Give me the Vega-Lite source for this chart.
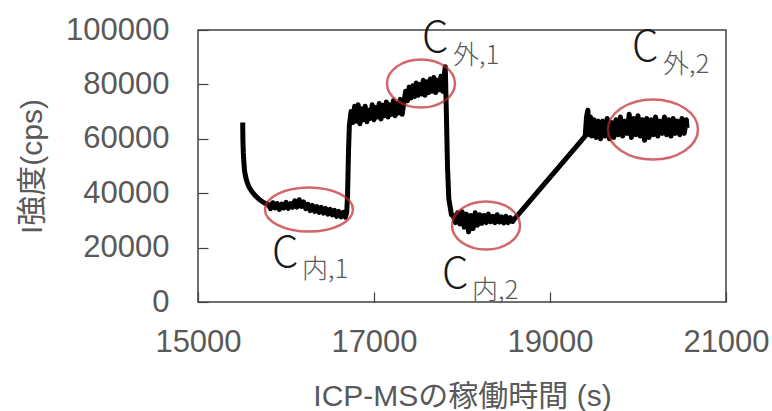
{
  "$schema": "https://vega.github.io/schema/vega-lite/v6.json",
  "width": 528,
  "height": 272,
  "autosize": "none",
  "padding": {"left": 198, "top": 30, "right": 46, "bottom": 109},
  "background": "white",
  "config": {
    "view": {"stroke": "#404040", "strokeWidth": 1.5},
    "axis": {
      "domain": false,
      "grid": false,
      "ticks": true,
      "tickColor": "#404040",
      "tickWidth": 1.2,
      "tickSize": -10,
      "format": "d",
      "labelFont": "Liberation Sans",
      "labelFontSize": 31,
      "labelColor": "#595959",
      "titleFont": "Liberation Sans, Noto Sans CJK JP",
      "titleFontSize": 30,
      "titleFontWeight": "normal",
      "titleColor": "#595959"
    }
  },
  "datasets": {
    "trace": [
      {"t": 15508, "v": 66000}, {"t": 15510, "v": 60000}, {"t": 15515, "v": 55000}, {"t": 15522, "v": 51000},
      {"t": 15530, "v": 48000}, {"t": 15545, "v": 45500}, {"t": 15560, "v": 43800}, {"t": 15580, "v": 42300},
      {"t": 15610, "v": 40700}, {"t": 15650, "v": 39100}, {"t": 15700, "v": 37600}, {"t": 15750, "v": 36500},
      {"t": 15800, "v": 35800}, {"t": 15825, "v": 34300}, {"t": 15850, "v": 36500}, {"t": 15875, "v": 34600},
      {"t": 15900, "v": 36200}, {"t": 15925, "v": 34000}, {"t": 15950, "v": 36000}, {"t": 15975, "v": 34500},
      {"t": 16000, "v": 36600}, {"t": 16025, "v": 34400}, {"t": 16050, "v": 36200}, {"t": 16075, "v": 34800},
      {"t": 16100, "v": 37200}, {"t": 16125, "v": 34900}, {"t": 16150, "v": 37600}, {"t": 16175, "v": 35100},
      {"t": 16200, "v": 36800}, {"t": 16225, "v": 34300}, {"t": 16250, "v": 35900}, {"t": 16275, "v": 33600},
      {"t": 16300, "v": 35500}, {"t": 16325, "v": 33300}, {"t": 16350, "v": 35100}, {"t": 16375, "v": 32900},
      {"t": 16400, "v": 34800}, {"t": 16425, "v": 32700}, {"t": 16450, "v": 34400}, {"t": 16475, "v": 32300},
      {"t": 16500, "v": 34100}, {"t": 16525, "v": 32000}, {"t": 16550, "v": 33700}, {"t": 16575, "v": 31500},
      {"t": 16600, "v": 33300}, {"t": 16625, "v": 31300}, {"t": 16650, "v": 33000}, {"t": 16675, "v": 31200},
      {"t": 16690, "v": 32800}, {"t": 16700, "v": 40000}, {"t": 16710, "v": 55000}, {"t": 16720, "v": 65000},
      {"t": 16740, "v": 70000}, {"t": 16760, "v": 66000}, {"t": 16780, "v": 72000}, {"t": 16800, "v": 66500},
      {"t": 16820, "v": 72500}, {"t": 16840, "v": 65500}, {"t": 16860, "v": 71000}, {"t": 16880, "v": 67000},
      {"t": 16900, "v": 72000}, {"t": 16920, "v": 66300}, {"t": 16940, "v": 70500}, {"t": 16960, "v": 67500},
      {"t": 16980, "v": 72500}, {"t": 17000, "v": 67000}, {"t": 17020, "v": 71500}, {"t": 17040, "v": 68000},
      {"t": 17060, "v": 73000}, {"t": 17080, "v": 67300}, {"t": 17100, "v": 72300}, {"t": 17120, "v": 68500},
      {"t": 17140, "v": 73500}, {"t": 17160, "v": 68000}, {"t": 17180, "v": 72500}, {"t": 17200, "v": 69000},
      {"t": 17220, "v": 74000}, {"t": 17240, "v": 68500}, {"t": 17260, "v": 73000}, {"t": 17280, "v": 69500},
      {"t": 17300, "v": 74500}, {"t": 17320, "v": 69000}, {"t": 17340, "v": 73500}, {"t": 17360, "v": 77500},
      {"t": 17380, "v": 74000}, {"t": 17400, "v": 79000}, {"t": 17420, "v": 75000}, {"t": 17440, "v": 79500},
      {"t": 17460, "v": 75500}, {"t": 17480, "v": 80500}, {"t": 17500, "v": 76000}, {"t": 17520, "v": 80000},
      {"t": 17540, "v": 76500}, {"t": 17560, "v": 81500}, {"t": 17580, "v": 76000}, {"t": 17600, "v": 81000},
      {"t": 17620, "v": 77000}, {"t": 17640, "v": 82000}, {"t": 17660, "v": 77500}, {"t": 17680, "v": 82500},
      {"t": 17700, "v": 77000}, {"t": 17720, "v": 81500}, {"t": 17740, "v": 78000}, {"t": 17760, "v": 83000},
      {"t": 17780, "v": 77500}, {"t": 17800, "v": 84000}, {"t": 17810, "v": 86500}, {"t": 17822, "v": 70000},
      {"t": 17835, "v": 50000}, {"t": 17850, "v": 38000}, {"t": 17880, "v": 32000}, {"t": 17900, "v": 31800},
      {"t": 17925, "v": 29200}, {"t": 17950, "v": 32800}, {"t": 17975, "v": 28700}, {"t": 18000, "v": 33200},
      {"t": 18025, "v": 27500}, {"t": 18050, "v": 32300}, {"t": 18075, "v": 25800}, {"t": 18100, "v": 31800},
      {"t": 18125, "v": 27000}, {"t": 18150, "v": 32800}, {"t": 18175, "v": 28200}, {"t": 18200, "v": 32100},
      {"t": 18225, "v": 28900}, {"t": 18250, "v": 31800}, {"t": 18275, "v": 29200}, {"t": 18300, "v": 32300},
      {"t": 18325, "v": 29500}, {"t": 18350, "v": 31500}, {"t": 18375, "v": 29200}, {"t": 18400, "v": 32100},
      {"t": 18425, "v": 29400}, {"t": 18450, "v": 31300}, {"t": 18475, "v": 29100}, {"t": 18500, "v": 31500},
      {"t": 18525, "v": 29200}, {"t": 18550, "v": 31000}, {"t": 18575, "v": 29600}, {"t": 18590, "v": 30300},
      {"t": 19400, "v": 61000}, {"t": 19415, "v": 68000}, {"t": 19430, "v": 70500}, {"t": 19445, "v": 61500},
      {"t": 19460, "v": 68000}, {"t": 19475, "v": 61000}, {"t": 19500, "v": 67000}, {"t": 19525, "v": 60500},
      {"t": 19550, "v": 66500}, {"t": 19575, "v": 60000}, {"t": 19600, "v": 66500}, {"t": 19625, "v": 61000},
      {"t": 19650, "v": 67500}, {"t": 19675, "v": 60000}, {"t": 19700, "v": 66000}, {"t": 19725, "v": 60500},
      {"t": 19750, "v": 67000}, {"t": 19775, "v": 61500}, {"t": 19800, "v": 68000}, {"t": 19825, "v": 61000},
      {"t": 19850, "v": 66500}, {"t": 19875, "v": 62000}, {"t": 19900, "v": 69000}, {"t": 19925, "v": 60500},
      {"t": 19950, "v": 67500}, {"t": 19975, "v": 61500}, {"t": 20000, "v": 68500}, {"t": 20025, "v": 61000},
      {"t": 20050, "v": 67000}, {"t": 20075, "v": 59500}, {"t": 20100, "v": 67500}, {"t": 20125, "v": 60500},
      {"t": 20150, "v": 67000}, {"t": 20175, "v": 61500}, {"t": 20200, "v": 68000}, {"t": 20225, "v": 61000},
      {"t": 20250, "v": 66500}, {"t": 20275, "v": 62000}, {"t": 20300, "v": 68000}, {"t": 20325, "v": 61500},
      {"t": 20350, "v": 67000}, {"t": 20375, "v": 61000}, {"t": 20400, "v": 67500}, {"t": 20425, "v": 62000},
      {"t": 20450, "v": 66500}, {"t": 20475, "v": 61500}, {"t": 20500, "v": 67500}, {"t": 20525, "v": 62000},
      {"t": 20550, "v": 67000}, {"t": 20557, "v": 64000}
    ],
    "bigC": [
      {"t": 15841, "v": 13050, "label": "C"},
      {"t": 17545, "v": 91730, "label": "C"},
      {"t": 17773, "v": 5330, "label": "C"},
      {"t": 19932, "v": 88420, "label": "C"}
    ],
    "subs": [
      {"t": 16182, "v": 9000, "label": "内,1"},
      {"t": 17898, "v": 87320, "label": "外,1"},
      {"t": 18114, "v": 920, "label": "内,2"},
      {"t": 20284, "v": 84370, "label": "外,2"}
    ]
  },
  "layer": [
    {
      "data": {"name": "trace"},
      "mark": {"type": "line", "color": "#000000", "strokeWidth": 5, "strokeJoin": "round"},
      "encoding": {
        "x": {
          "field": "t", "type": "quantitative",
          "scale": {"domain": [15000, 21000], "nice": false, "zero": false},
          "axis": {"values": [15000, 17000, 19000, 21000], "title": "ICP-MSの稼働時間 (s)", "labelPadding": 35, "titlePadding": 24, "labelFlush": false}
        },
        "y": {
          "field": "v", "type": "quantitative",
          "scale": {"domain": [0, 100000], "nice": false},
          "axis": {"values": [0, 20000, 40000, 60000, 80000, 100000], "title": "I強度(cps)", "labelPadding": 39, "titlePadding": 18, "labelFlush": false}
        }
      }
    },
    {
      "data": {"values": [{"t": 16261, "v": 34000}]},
      "mark": {"type": "point", "filled": false, "stroke": "#c0282d", "strokeWidth": 2.5, "size": 7744, "shape": "M-1,0A1,0.5,0,1,1,1,0A1,0.5,0,1,1,-1,0Z"},
      "encoding": {"x": {"field": "t", "type": "quantitative"}, "y": {"field": "v", "type": "quantitative"}}
    },
    {
      "data": {"values": [{"t": 17534, "v": 80330}, {"t": 18273, "v": 28125}]},
      "mark": {"type": "point", "filled": false, "stroke": "#c0282d", "strokeWidth": 2.5, "size": 4624, "shape": "M-1,0A1,0.706,0,1,1,1,0A1,0.706,0,1,1,-1,0Z"},
      "encoding": {"x": {"field": "t", "type": "quantitative"}, "y": {"field": "v", "type": "quantitative"}}
    },
    {
      "data": {"values": [{"t": 20170, "v": 63420}]},
      "mark": {"type": "point", "filled": false, "stroke": "#c0282d", "strokeWidth": 2.5, "size": 8100, "shape": "M-1,0A1,0.667,0,1,1,1,0A1,0.667,0,1,1,-1,0Z"},
      "encoding": {"x": {"field": "t", "type": "quantitative"}, "y": {"field": "v", "type": "quantitative"}}
    },
    {
      "data": {"name": "bigC"},
      "mark": {"type": "text", "align": "left", "baseline": "alphabetic", "font": "Noto Sans CJK JP", "fontWeight": 300, "fontSize": 42, "color": "#1a1a1a"},
      "encoding": {"x": {"field": "t", "type": "quantitative"}, "y": {"field": "v", "type": "quantitative"}, "text": {"field": "label"}}
    },
    {
      "data": {"name": "subs"},
      "mark": {"type": "text", "align": "left", "baseline": "alphabetic", "font": "Noto Sans CJK JP", "fontWeight": 300, "fontSize": 26, "color": "#595959"},
      "encoding": {"x": {"field": "t", "type": "quantitative"}, "y": {"field": "v", "type": "quantitative"}, "text": {"field": "label"}}
    }
  ]
}
